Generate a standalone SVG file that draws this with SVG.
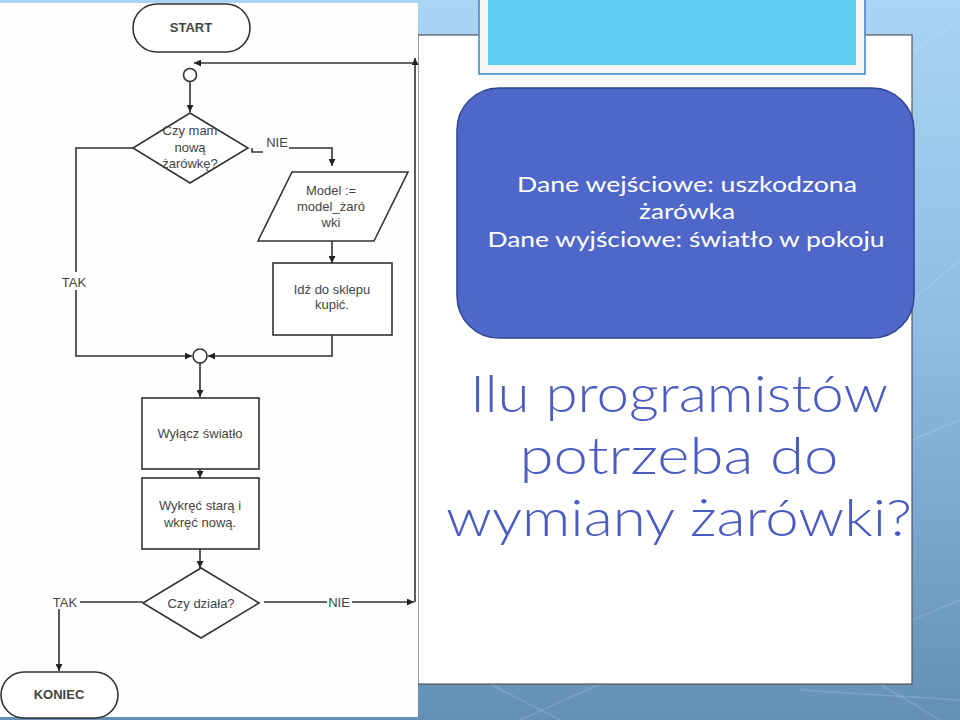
<svg xmlns="http://www.w3.org/2000/svg" width="960" height="720" viewBox="0 0 960 720">
<defs>
<linearGradient id="bg" x1="0" y1="0" x2="0" y2="1">
<stop offset="0" stop-color="#a9d4f4"/>
<stop offset="0.45" stop-color="#8fbde3"/>
<stop offset="1" stop-color="#6490b6"/>
</linearGradient>
<marker id="ah" viewBox="0 0 10 10" refX="10" refY="5" markerWidth="7" markerHeight="7" markerUnits="userSpaceOnUse" orient="auto">
<path d="M0,0 L10,5 L0,10 z" fill="#222"/>
</marker>
<style>
.ln{fill:none;stroke:#333;stroke-width:1.6}
.sh{fill:#fff;stroke:#333;stroke-width:1.6}
.ft{font-family:"Liberation Sans",Arial,sans-serif;font-size:13px;fill:#444;text-anchor:middle}
.lb{font-family:"Liberation Sans",Arial,sans-serif;font-size:13px;fill:#444;text-anchor:middle}
.bx{font-family:"Lato","DejaVu Sans",sans-serif;font-size:21px;font-weight:400;fill:#fff;text-anchor:middle}
.big{font-family:"Lato","DejaVu Sans",sans-serif;font-size:52px;font-weight:300;fill:#4a5bc2;text-anchor:middle}
</style>
</defs>
<rect width="960" height="720" fill="url(#bg)"/>
<g stroke="#ffffff" stroke-opacity="0.15" stroke-width="1.5" fill="none">
<path d="M900 60 L960 20"/>
<path d="M912 300 L960 260"/>
<path d="M912 440 L960 420"/>
<path d="M912 620 L960 600"/>
<path d="M490 684 L560 720"/>
<path d="M600 684 L520 720"/>
<path d="M800 690 L960 700"/>
<path d="M880 684 L940 720"/>
</g>
<!-- slide panel -->
<rect x="418" y="35" width="494" height="649" fill="#fff" stroke="#555" stroke-width="1.2"/>
<!-- cyan title box -->
<g id="titlebox">
<rect x="479" y="-4" width="386" height="78" fill="#f4f6f8" stroke="#3b82c4" stroke-width="1.5"/>
<rect x="488" y="-2" width="368" height="67" fill="#5fcbf2"/>
</g>
<!-- blue info box -->
<g id="infobox">
<rect x="457" y="88" width="457" height="250" rx="42" ry="42" fill="#4f67c8" stroke="#2f4690" stroke-width="1.5"/>
<text class="bx" x="687" y="192" textLength="340" lengthAdjust="spacingAndGlyphs">Dane wejściowe: uszkodzona</text>
<text class="bx" x="687" y="219" textLength="96" lengthAdjust="spacingAndGlyphs">żarówka</text>
<text class="bx" x="686" y="247" textLength="397" lengthAdjust="spacingAndGlyphs">Dane wyjściowe: światło w pokoju</text>
</g>
<g id="question">
<text class="big" x="679" y="412" textLength="418" lengthAdjust="spacingAndGlyphs">Ilu programistów</text>
<text class="big" x="679" y="474" textLength="319" lengthAdjust="spacingAndGlyphs">potrzeba do</text>
<text class="big" x="679" y="536" textLength="466" lengthAdjust="spacingAndGlyphs">wymiany żarówki?</text>
</g>
<!-- flowchart image background -->
<rect x="0" y="3" width="418" height="714" fill="#fefefe"/>
<!-- connectors -->
<g id="connectors">
<path class="ln" d="M415,602 L415,58" marker-end="url(#ah)"/>
<path class="ln" d="M415,63 L194,63" marker-end="url(#ah)"/>
<path class="ln" d="M190,82 L190,112" marker-end="url(#ah)"/>
<path class="ln" d="M252,148 L252,152 L263,152 M289,148 L332,148 L332,166" marker-end="url(#ah)"/>
<path class="ln" d="M133,148 L76,148 L76,272 M76,290 L76,356 L192,356" marker-end="url(#ah)"/>
<path class="ln" d="M332,241 L332,263" marker-end="url(#ah)"/>
<path class="ln" d="M332,335 L332,356 L208,356" marker-end="url(#ah)"/>
<path class="ln" d="M200,363 L200,397" marker-end="url(#ah)"/>
<path class="ln" d="M200,469 L200,478" marker-end="url(#ah)"/>
<path class="ln" d="M200,549 L200,568" marker-end="url(#ah)"/>
<path class="ln" d="M264,602 L327,602 M352,602 L414,602" marker-end="url(#ah)"/>
<path class="ln" d="M143,602 L80,602"/>
<path class="ln" d="M59,609 L59,671" marker-end="url(#ah)"/>
<text class="lb" x="277" y="147">NIE</text>
<text class="lb" x="74" y="287">TAK</text>
<text class="lb" x="339" y="607">NIE</text>
<text class="lb" x="65" y="607">TAK</text>
</g>
<g id="start">
<rect class="sh" x="133" y="4" width="117" height="48" rx="24" ry="24"/>
<text class="ft" x="191" y="32" font-size="14" font-weight="bold">START</text>
</g>
<g id="join1"><circle class="sh" cx="190" cy="75" r="6.5"/></g>
<g id="decision1">
<polygon class="sh" points="190,113 248,148 190,183 133,148"/>
<text class="ft" x="190" y="135">Czy mam</text>
<text class="ft" x="190" y="152">nową</text>
<text class="ft" x="190" y="168">żarówkę?</text>
</g>
<g id="model">
<polygon class="sh" points="292,172 408,172 374,241 258,241"/>
<text class="ft" x="331" y="195">Model :=</text>
<text class="ft" x="331" y="211">model_żaró</text>
<text class="ft" x="331" y="227">wki</text>
</g>
<g id="sklep">
<rect class="sh" x="273" y="263" width="119" height="72"/>
<text class="ft" x="332" y="294">Idź do sklepu</text>
<text class="ft" x="332" y="309">kupić.</text>
</g>
<g id="join2"><circle class="sh" cx="200" cy="356" r="7"/></g>
<g id="wylacz">
<rect class="sh" x="142" y="398" width="117" height="71"/>
<text class="ft" x="200" y="438">Wyłącz światło</text>
</g>
<g id="wykrec">
<rect class="sh" x="142" y="478" width="117" height="71"/>
<text class="ft" x="200" y="510">Wykręć starą i</text>
<text class="ft" x="200" y="527">wkręć nową.</text>
</g>
<g id="decision2">
<polygon class="sh" points="201,568 259,603 201,638 143,603"/>
<text class="ft" x="201" y="608">Czy działa?</text>
</g>
<g id="koniec">
<rect class="sh" x="1" y="672" width="117" height="46" rx="23" ry="23"/>
<text class="ft" x="59" y="699" font-size="14" font-weight="bold">KONIEC</text>
</g>
</svg>
